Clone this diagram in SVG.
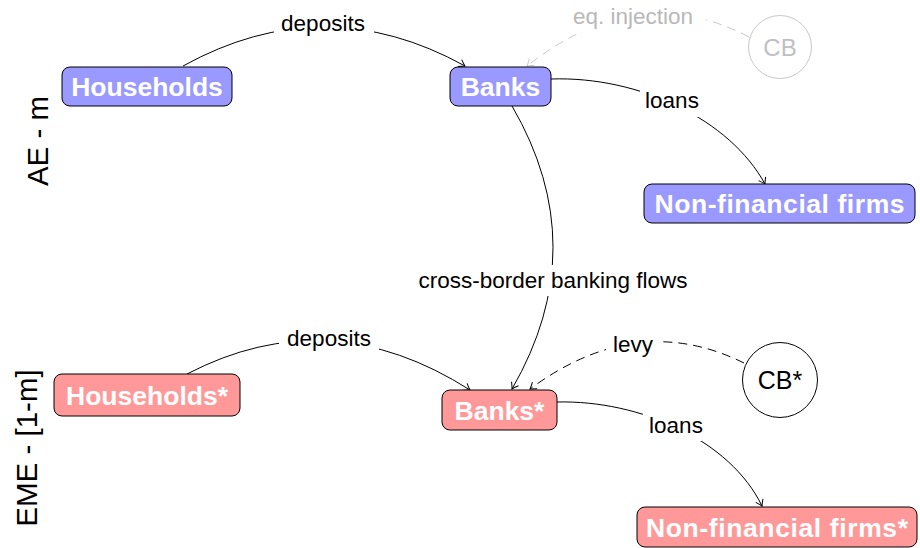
<svg xmlns="http://www.w3.org/2000/svg" width="920" height="548" viewBox="0 0 920 548">
<defs>
<style>
.node rect{stroke:#000;stroke-width:1}
.ae rect{fill:#9999ff}
.eme rect{fill:#ff9999}
.node text{font-family:"Liberation Sans",Arial,sans-serif;font-weight:bold;font-size:26.5px;fill:#fff;text-anchor:middle}
.edge{fill:none;stroke:#000;stroke-width:1}
.dash{stroke-dasharray:9 6}
.gray{stroke:#c8c8c8}
.lbl{font-family:"Liberation Sans",Arial,sans-serif;font-size:22.5px;fill:#000;text-anchor:middle}
.lblbg{fill:#fff}
.side{font-family:"Liberation Sans",Arial,sans-serif;font-size:29.5px;fill:#000;text-anchor:middle}
</style>
<marker id="arr" markerWidth="12" markerHeight="12" refX="0" refY="0" viewBox="-7 -6 8 12" orient="auto" markerUnits="userSpaceOnUse">
<path d="M -6 -4 Q -2 -1 0 0 Q -2 1 -6 4" fill="none" stroke="#000" stroke-width="1"/>
</marker>
<marker id="arrg" markerWidth="12" markerHeight="12" refX="0" refY="0" viewBox="-7 -6 8 12" orient="auto" markerUnits="userSpaceOnUse">
<path d="M -6 -4 Q -2 -1 0 0 Q -2 1 -6 4" fill="none" stroke="#c8c8c8" stroke-width="1"/>
</marker>
</defs>
<rect width="920" height="548" fill="#fff"/>

<g id="connectors">
<path class="edge" d="M 183 66 Q 324 -12 465 66" marker-end="url(#arr)"/>
<path class="edge dash gray" d="M 749 37 Q 638 -21.5 527 66" marker-end="url(#arrg)"/>
<path class="edge" d="M 551 79 C 640 76 730 120 765 184" marker-end="url(#arr)"/>
<path class="edge" d="M 512 106 Q 594 247 512 389" marker-end="url(#arr)"/>
<path class="edge" d="M 187 374 Q 329 300 470 390" marker-end="url(#arr)"/>
<path class="edge dash" d="M 744 363 Q 637 310 530 389" marker-end="url(#arr)"/>
<path class="edge" d="M 557 402 C 640 400 730 440 762 506" marker-end="url(#arr)"/>

<rect class="lblbg" x="274" y="9" width="100" height="30"/>
<text class="lbl" x="323" y="31">deposits</text>
<rect class="lblbg" x="562" y="1" width="144" height="31"/>
<text class="lbl" x="633" y="24" style="fill:#b8b8b8">eq. injection</text>
<rect class="lblbg" x="640" y="87" width="66" height="30"/>
<text class="lbl" x="672" y="108">loans</text>
<rect class="lblbg" x="408" y="265" width="290" height="31"/>
<text class="lbl" x="553" y="288">cross-border banking flows</text>
<rect class="lblbg" x="279" y="324" width="100" height="30"/>
<text class="lbl" x="329" y="346">deposits</text>
<rect class="lblbg" x="606" y="330" width="56" height="31"/>
<text class="lbl" x="633" y="352">levy</text>
<rect class="lblbg" x="643" y="411" width="66" height="30"/>
<text class="lbl" x="676" y="433">loans</text>
</g>

<g id="households" class="node ae">
<rect x="62" y="67" width="170" height="39" rx="8"/>
<text x="147" y="96">Households</text>
</g>
<g id="banks" class="node ae">
<rect x="450" y="67" width="101" height="39" rx="8"/>
<text x="500.5" y="96">Banks</text>
</g>
<g id="firms" class="node ae">
<rect x="644" y="184" width="271" height="39" rx="8"/>
<text x="779.5" y="213" textLength="250" lengthAdjust="spacing">Non-financial firms</text>
</g>
<g id="cb">
<circle cx="780" cy="47" r="31.5" fill="#fff" stroke="#c8c8c8" stroke-width="1"/>
<text x="780" y="55.5" font-family="Liberation Sans, Arial, sans-serif" font-size="24" fill="#c0c0c0" text-anchor="middle">CB</text>
</g>

<g id="households-star" class="node eme">
<rect x="54" y="374" width="186" height="42" rx="8"/>
<text x="147" y="405">Households*</text>
</g>
<g id="banks-star" class="node eme">
<rect x="442" y="390" width="115" height="40" rx="8"/>
<text x="499.5" y="420">Banks*</text>
</g>
<g id="firms-star" class="node eme">
<rect x="637" y="507" width="280" height="40" rx="8"/>
<text x="777" y="537" textLength="262" lengthAdjust="spacing">Non-financial firms*</text>
</g>
<g id="cb-star">
<circle cx="780" cy="380" r="37.5" fill="#fff" stroke="#000" stroke-width="1"/>
<text x="780" y="389" font-family="Liberation Sans, Arial, sans-serif" font-size="25" fill="#000" text-anchor="middle">CB*</text>
</g>

<g id="side-labels">
<text class="side" transform="translate(48 141) rotate(-90)">AE - m</text>
<text class="side" transform="translate(37 448) rotate(-90)">EME - [1-m]</text>
</g>
</svg>
